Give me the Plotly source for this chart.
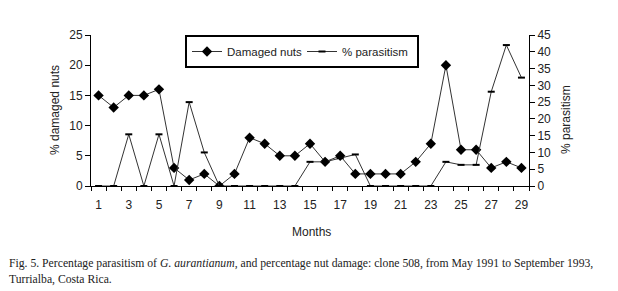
import plotly.graph_objects as go

months = list(range(1, 30))
damaged_nuts = [15, 13, 15, 15, 16, 3, 1, 2, 0, 2, 8, 7, 5, 5, 7, 4, 5, 2, 2, 2, 2, 4, 7, 20, 6, 6, 3, 4, 3]
parasitism = [0, 0, 15.4, 0, 15.4, 0, 25, 10, 0, 0, 0, 0, 0, 0, 7.2, 7.2, 8.3, 9.4, 0, 0, 0, 0, 0, 7.2, 6.3, 6.3, 28.1, 42, 32.3]
xtick_vals = list(range(1, 30, 2))
xtick_text = [str(v) for v in xtick_vals]
left_ticks = [0, 5, 10, 15, 20, 25]
right_ticks = list(range(0, 50, 5))

# page body has an 8px default margin; work in window pixels and subtract it
OFF = 8
W, H = 618 - OFF, 291 - OFF
L, T = 91 - OFF, 35 - OFF
pw, ph = 438, 151
R = W - L - pw
B = H - T - ph


def px_x(wx):
    return (wx - OFF - L) / pw


def px_y(wy):
    return 1 - (wy - OFF - T) / ph


fig = go.Figure()
fig.add_trace(go.Scatter(
    x=months, y=damaged_nuts, name="Damaged nuts", mode="lines+markers",
    line=dict(color="#333333", width=1),
    marker=dict(symbol="diamond", size=8, color="black"),
    yaxis="y"))
fig.add_trace(go.Scatter(
    x=months, y=parasitism, name="% parasitism", mode="lines+markers",
    line=dict(color="#333333", width=1),
    marker=dict(symbol="line-ew", size=5, color="black", line=dict(width=2, color="black")),
    yaxis="y2"))

axis_font = dict(family="Liberation Sans, Arial", size=12, color="#222222")

fig.update_layout(
    width=W, height=H,
    margin=dict(l=L, r=R, t=T, b=B),
    paper_bgcolor="white", plot_bgcolor="white",
    font=axis_font,
    showlegend=True,
    legend=dict(orientation="h", x=px_x(302), xanchor="center", y=1.0, yanchor="top",
                bordercolor="black", borderwidth=2, bgcolor="white",
                font=dict(family="Liberation Sans, Arial", size=11.5, color="#222222"),
                itemwidth=30, entrywidth=70, tracegroupgap=0),
    xaxis=dict(range=[0.5, 29.5], tickmode="array", tickvals=xtick_vals, ticktext=xtick_text,
               showgrid=False, zeroline=False, showline=True, linecolor="black", linewidth=1,
               ticks="", ticklabelstandoff=8, tickfont=axis_font,
               minor=dict(tickmode="linear", tick0=0.5, dtick=1, ticks="outside", ticklen=4,
                          tickcolor="black", tickwidth=1, showgrid=False)),
    yaxis=dict(range=[0, 25], tickmode="array", tickvals=left_ticks,
               showgrid=False, zeroline=False, showline=True, linecolor="black", linewidth=1,
               ticks="outside", ticklen=5, tickcolor="black", tickfont=axis_font),
    yaxis2=dict(range=[0, 45], tickmode="array", tickvals=right_ticks, overlaying="y", side="right",
                showgrid=False, zeroline=False, showline=True, linecolor="black", linewidth=1,
                ticks="outside", ticklen=5, tickcolor="black", tickfont=axis_font),
)

fig.add_annotation(text="% damaged nuts", xref="paper", yref="paper", x=px_x(55), y=px_y(110),
                   textangle=-90, showarrow=False, font=axis_font, xanchor="center", yanchor="middle")
fig.add_annotation(text="% parasitism", xref="paper", yref="paper", x=px_x(566), y=px_y(120),
                   textangle=-90, showarrow=False, font=axis_font, xanchor="center", yanchor="middle")
fig.add_annotation(text="Months", xref="paper", yref="paper", x=px_x(311), y=px_y(232),
                   showarrow=False, font=axis_font, xanchor="center", yanchor="middle")

cap_font = dict(family="Liberation Serif, Times New Roman", size=11.7, color="#222222")
fig.add_annotation(text="Fig. 5. Percentage parasitism of <i>G. aurantianum</i>, and percentage nut damage: clone 508, from May 1991 to September 1993,",
                   xref="paper", yref="paper", x=px_x(7), y=px_y(263),
                   showarrow=False, font=cap_font, xanchor="left", yanchor="middle", align="left")
fig.add_annotation(text="Turrialba, Costa Rica.",
                   xref="paper", yref="paper", x=px_x(7), y=px_y(279),
                   showarrow=False, font=cap_font, xanchor="left", yanchor="middle", align="left")

fig.write_html("out.html")
